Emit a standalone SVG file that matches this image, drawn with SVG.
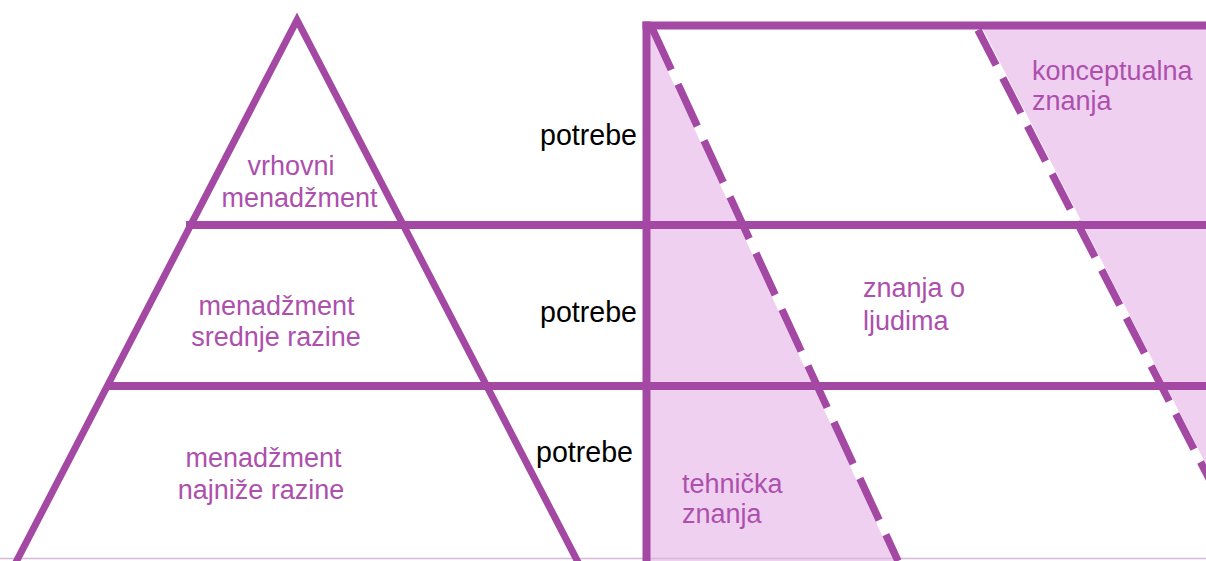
<svg xmlns="http://www.w3.org/2000/svg" width="1206" height="561" viewBox="0 0 1206 561">
  <style>
    .ln { stroke: #a349a4; fill: none; }
    .pink { fill: #f0d0f0; stroke: none; }
    .gapw { stroke: #ffffff; stroke-width: 7.5; fill: none; }
    .dash { stroke: #a349a4; stroke-width: 7.5; fill: none; }
    .lbl { font-family: "Liberation Sans", Arial, sans-serif; font-size: 27px; fill: #ad50ad; }
    .need { font-family: "Liberation Sans", Arial, sans-serif; font-size: 28.6px; fill: #000000; text-anchor: end; }
  </style>
  <rect x="0" y="0" width="1206" height="561" fill="#ffffff"/>

  <g id="matrix-fills">
    <polygon class="pink" points="650,28 652,28 898,561 650,561"/>
    <polygon class="pink" points="978,28 1206,28 1206,472"/>
  </g>

  <g id="connectors">
    <line class="gapw" x1="652" y1="28" x2="898" y2="561"/>
    <line class="gapw" x1="978" y1="28" x2="1216" y2="492"/>
    <line class="ln" stroke-width="8" x1="186" y1="225" x2="1206" y2="225"/>
    <line class="ln" stroke-width="8" x1="106" y1="386" x2="1206" y2="386"/>
    <line x1="0" y1="558.5" x2="1206" y2="558.5" stroke="#d6b8da" stroke-width="1.5"/>
  </g>

  <g id="pyramid">
    <polyline class="ln" stroke-width="7" stroke-linejoin="miter" stroke-miterlimit="10" points="14,566 297,20 580,566"/>
  </g>

  <g id="matrix-frame">
    <line class="ln" stroke-width="8" x1="646.5" y1="21.5" x2="646.5" y2="561"/>
    <line class="ln" stroke-width="8" x1="642.5" y1="25.5" x2="1206" y2="25.5"/>
    <line class="dash" stroke-dasharray="46 16" x1="652" y1="28" x2="898" y2="561"/>
    <line class="dash" stroke-dasharray="39.5 14.5" x1="978" y1="30" x2="1216" y2="492"/>
  </g>

  <g id="level-top">
    <text class="lbl" x="291" y="175" text-anchor="middle">vrhovni</text>
    <text class="lbl" x="299.5" y="207" text-anchor="middle">menadžment</text>
  </g>
  <g id="level-middle">
    <text class="lbl" x="276.5" y="315" text-anchor="middle">menadžment</text>
    <text class="lbl" x="276" y="346" text-anchor="middle">srednje razine</text>
  </g>
  <g id="level-bottom">
    <text class="lbl" x="263.5" y="467" text-anchor="middle">menadžment</text>
    <text class="lbl" x="261" y="499" text-anchor="middle">najniže razine</text>
  </g>

  <g id="needs">
    <text class="need" x="637" y="145">potrebe</text>
    <text class="need" x="637" y="322">potrebe</text>
    <text class="need" x="633" y="462">potrebe</text>
  </g>

  <g id="skill-conceptual">
    <text class="lbl" x="1032" y="80">konceptualna</text>
    <text class="lbl" x="1032" y="110">znanja</text>
  </g>
  <g id="skill-people">
    <text class="lbl" x="863" y="297">znanja o</text>
    <text class="lbl" x="863" y="330">ljudima</text>
  </g>
  <g id="skill-technical">
    <text class="lbl" x="682" y="493">tehnička</text>
    <text class="lbl" x="682" y="523">znanja</text>
  </g>
</svg>
